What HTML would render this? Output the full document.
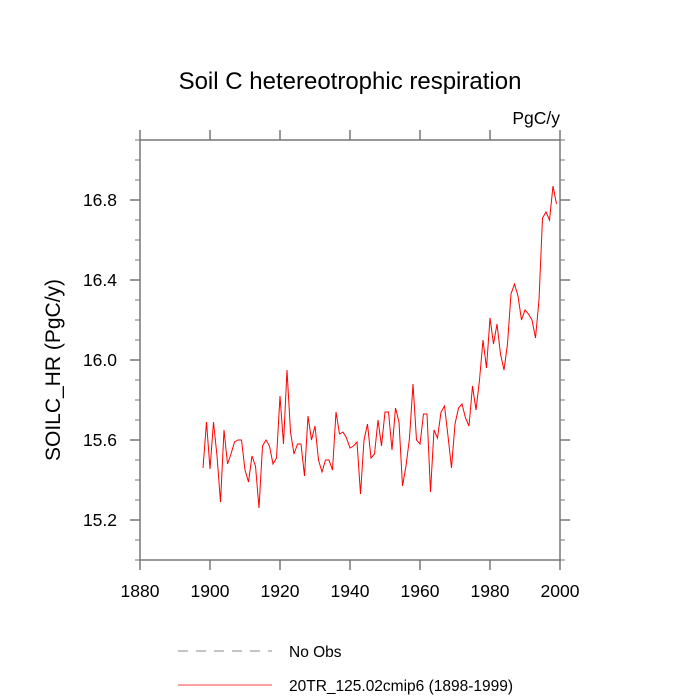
<!DOCTYPE html>
<html><head><meta charset="utf-8"><style>
html,body{margin:0;padding:0;background:#fff;}
svg{display:block;font-family:"Liberation Sans",Helvetica,Arial,sans-serif;}
</style></head><body>
<svg id="chart" width="700" height="700" viewBox="0 0 700 700">
<text x="350" y="89" font-size="24" text-anchor="middle">Soil C hetereotrophic respiration</text>
<text x="560" y="124" font-size="17.5" text-anchor="end">PgC/y</text>
<text transform="translate(60,370) rotate(-90)" font-size="21" text-anchor="middle">SOILC_HR  (PgC/y)</text>
<g id="axes"></g>
<g id="series"></g>
<g>
<line x1="178" y1="651" x2="272" y2="651" stroke="#888" stroke-width="1" stroke-dasharray="10,8"/>
<text x="289" y="657" font-size="15.5">No Obs</text>
<line x1="178" y1="685" x2="272" y2="685" stroke="#f00" stroke-width="0.8"/>
<text x="289" y="691" font-size="15.5">20TR_125.02cmip6 (1898-1999)</text>
</g>
</svg>
<script>
const startYear = 1898;
const values = [15.46,15.69,15.455,15.69,15.52,15.29,15.65,15.48,15.53,15.59,15.60,15.60,15.45,15.39,15.52,15.47,15.26,15.57,15.60,15.57,15.48,15.51,15.82,15.58,15.95,15.64,15.53,15.58,15.58,15.42,15.72,15.60,15.67,15.50,15.44,15.50,15.50,15.45,15.74,15.63,15.64,15.61,15.56,15.57,15.59,15.33,15.60,15.68,15.51,15.53,15.70,15.57,15.74,15.74,15.55,15.76,15.69,15.37,15.47,15.61,15.88,15.60,15.58,15.73,15.73,15.34,15.65,15.61,15.74,15.77,15.62,15.46,15.68,15.76,15.78,15.71,15.67,15.87,15.75,15.90,16.10,15.96,16.21,16.08,16.18,16.03,15.95,16.08,16.33,16.38,16.32,16.20,16.25,16.23,16.20,16.11,16.30,16.71,16.74,16.70,16.87,16.78];
const xTicks = [1880,1900,1920,1940,1960,1980,2000];
const yTicks = [15.2,15.6,16.0,16.4,16.8];
const xMin=1880,xMax=2000,yMin=15.0,yMax=17.1;
const L=140,R=560,T=140,B=560;
const sx=v=>L+(v-xMin)/(xMax-xMin)*(R-L);
const sy=v=>B-(v-yMin)/(yMax-yMin)*(B-T);
const NS="http://www.w3.org/2000/svg";
const axes=document.getElementById('axes');
function mk(tag,attrs,parent){const e=document.createElementNS(NS,tag);for(const k in attrs)e.setAttribute(k,attrs[k]);parent.appendChild(e);return e;}
const frame=mk('rect',{x:L,y:T,width:R-L,height:B-T,fill:'none',stroke:'#777','stroke-width':1.5},axes);


xTicks.forEach(t=>{
  const x=sx(t);
  const a=mk('line',{x1:x,y1:B,x2:x,y2:B+10,stroke:'#777','stroke-width':1.5},axes);
  
  
  const b=mk('line',{x1:x,y1:T,x2:x,y2:T-10,stroke:'#777','stroke-width':1.5},axes);
  
  
  const tx=mk('text',{x:x,y:597,'font-size':17.5,'text-anchor':'middle'},axes);
  tx.textContent=t;
  
  
});
for(let i=0;i<=21;i++){
  const v=yMin+i*0.1;const y=sy(v);
  const major=yTicks.some(t=>Math.abs(t-v)<1e-6);
  const len=major?10:5;
  const a=mk('line',{x1:L,y1:y,x2:L-len,y2:y,stroke:'#777','stroke-width':major?1.5:1},axes);
  
  
  const b=mk('line',{x1:R,y1:y,x2:R+len,y2:y,stroke:'#777','stroke-width':major?1.5:1},axes);
  
  
}
yTicks.forEach(t=>{
  const tx=mk('text',{x:117,y:sy(t)+6,'font-size':17.5,'text-anchor':'end'},axes);
  tx.textContent=t.toFixed(1);
  
  
});
const pts=values.map((v,i)=>sx(startYear+i).toFixed(2)+','+sy(v).toFixed(2)).join(' ');
const line=mk('polyline',{points:pts,fill:'none',stroke:'#f00','stroke-width':1},document.getElementById('series'));


</script>
</body></html>
